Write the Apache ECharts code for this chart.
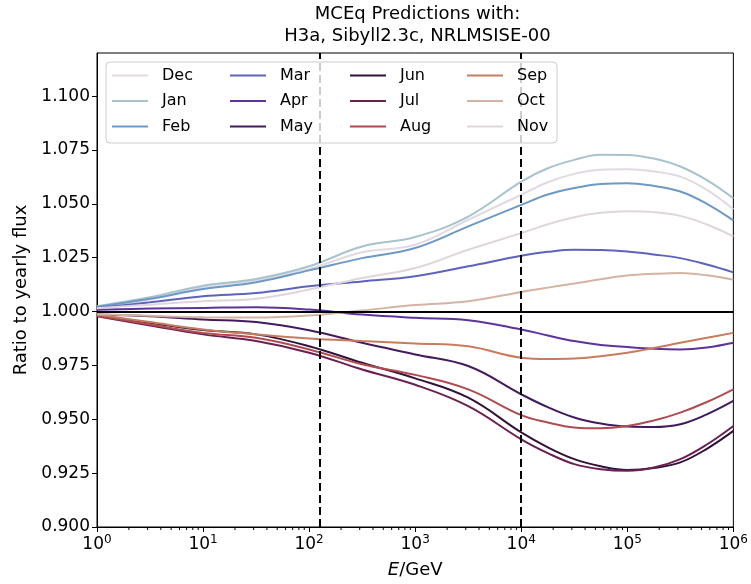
<!DOCTYPE html>
<html>
<head>
<meta charset="utf-8">
<script src="https://cdn.jsdelivr.net/npm/echarts@6/dist/echarts.min.js"></script>
<style>
  html, body { margin: 0; padding: 0; background: #fff; }
  #chart { width: 751px; height: 584px; }
</style>
</head>
<body>
<div id="chart"></div>
<script>
// log10(E/GeV) sample points
const logE = [0, 0.5, 1, 1.5, 2, 2.5, 3, 3.5, 4, 4.25, 4.5, 4.75, 5, 5.25, 5.5, 5.75, 6];

const months = ["Dec", "Jan", "Feb", "Mar", "Apr", "May", "Jun", "Jul", "Aug", "Sep", "Oct", "Nov"];
const colors = ["#e2d9e2", "#a7c3cc", "#6d99c6", "#5d63bc", "#5f339c", "#431a5e",
                "#30133a", "#6c2050", "#b04b4f", "#c87c5e", "#d5b3a3", "#dfd6dd"];

const dec = [1.0022, 1.0056, 1.0114, 1.0145, 1.0198, 1.0275, 1.0310, 1.0426, 1.0542, 1.0600, 1.0639, 1.0658, 1.0660, 1.0650, 1.0626, 1.0565, 1.0475];
const jan = [1.0025, 1.0066, 1.0120, 1.0151, 1.0210, 1.0302, 1.0346, 1.0441, 1.0603, 1.0665, 1.0704, 1.0728, 1.0727, 1.0710, 1.0673, 1.0610, 1.0526];
const feb = [1.0022, 1.0059, 1.0105, 1.0136, 1.0191, 1.0248, 1.0295, 1.0395, 1.0495, 1.0543, 1.0573, 1.0592, 1.0596, 1.0583, 1.0557, 1.0500, 1.0423];
const mar = [1.0017, 1.0043, 1.0071, 1.0086, 1.0117, 1.0140, 1.0164, 1.0210, 1.0259, 1.0277, 1.0287, 1.0286, 1.0279, 1.0265, 1.0248, 1.0218, 1.0182];
const apr = [1.0008, 1.0014, 1.0017, 1.0020, 1.0009, 0.9986, 0.9971, 0.9960, 0.9917, 0.9889, 0.9863, 0.9845, 0.9835, 0.9827, 0.9824, 0.9833, 0.9855];
const may = [0.9986, 0.9978, 0.9963, 0.9951, 0.9913, 0.9855, 0.9801, 0.9747, 0.9616, 0.9556, 0.9508, 0.9480, 0.9466, 0.9464, 0.9477, 0.9523, 0.9585];
const jun = [0.9983, 0.9948, 0.9914, 0.9894, 0.9839, 0.9762, 0.9690, 0.9600, 0.9439, 0.9370, 0.9315, 0.9282, 0.9265, 0.9274, 0.9300, 0.9363, 0.9446];
const jul = [0.9978, 0.9935, 0.9894, 0.9863, 0.9809, 0.9731, 0.9660, 0.9561, 0.9407, 0.9343, 0.9292, 0.9268, 0.9261, 0.9276, 0.9315, 0.9383, 0.9469];
const aug = [0.9981, 0.9940, 0.9901, 0.9878, 0.9824, 0.9755, 0.9706, 0.9639, 0.9519, 0.9485, 0.9462, 0.9458, 0.9469, 0.9494, 0.9531, 0.9580, 0.9639];
const sep = [0.9986, 0.9951, 0.9917, 0.9894, 0.9875, 0.9863, 0.9852, 0.9839, 0.9786, 0.9780, 0.9782, 0.9793, 0.9809, 0.9831, 0.9855, 0.9878, 0.9901];
const oct = [0.9988, 0.9980, 0.9973, 0.9972, 0.9982, 1.0005, 1.0030, 1.0048, 1.0091, 1.0111, 1.0130, 1.0150, 1.0167, 1.0175, 1.0179, 1.0168, 1.0148];
const nov = [1.0015, 1.0032, 1.0048, 1.0059, 1.0102, 1.0156, 1.0202, 1.0287, 1.0364, 1.0405, 1.0438, 1.0458, 1.0465, 1.0461, 1.0444, 1.0404, 1.0349];

const values = [dec, jan, feb, mar, apr, may, jun, jul, aug, sep, oct, nov];

const yTicks = [0.9, 0.925, 0.95, 0.975, 1.0, 1.025, 1.05, 1.075, 1.1];
const cutEnergies = [125, 1e4];

// minor ticks of the log axis (2..9 times each decade)
const minorTicks = [];
for (let d = 0; d < 6; d++) {
  for (let k = 2; k <= 9; k++) minorTicks.push(k * Math.pow(10, d));
}

const font = "DejaVu Sans";
const chart = echarts.init(document.getElementById("chart"));

const series = months.map((m, i) => ({
  name: m,
  type: "line",
  data: logE.map((l, j) => [Math.pow(10, l), values[i][j]]),
  smooth: 0.4,
  symbol: "none",
  lineStyle: { width: 2, color: colors[i] },
  itemStyle: { color: colors[i] },
  z: 2
}));

series.push({
  name: "lines",
  type: "line",
  data: [],
  markLine: {
    silent: true,
    symbol: "none",
    label: { show: false },
    z: 4,
    data: [
      { yAxis: 1.0, lineStyle: { color: "#000", width: 2, type: "solid" } },
      { xAxis: cutEnergies[0], lineStyle: { color: "#000", width: 2, type: [8, 4] } },
      { xAxis: cutEnergies[1], lineStyle: { color: "#000", width: 2, type: [8, 4] } }
    ]
  }
});

// minor ticks below the x axis, placed through the axis scale
series.push({
  name: "minor",
  type: "custom",
  silent: true,
  clip: false,
  z: 5,
  data: minorTicks.map(v => [v, 0.9]),
  renderItem: (params, api) => {
    const p = api.coord([api.value(0), api.value(1)]);
    return {
      type: "line",
      shape: { x1: p[0], y1: p[1], x2: p[0], y2: p[1] + 3 },
      style: { stroke: "#000", lineWidth: 1 }
    };
  }
});

function legend(names, left) {
  return {
    data: names,
    orient: "vertical",
    left: left,
    top: 65.5,
    padding: 0,
    itemWidth: 36,
    itemHeight: 2,
    itemGap: 5.5,
    icon: "rect",
    z: 8,
    textStyle: { fontFamily: font, fontSize: 16, color: "#000", lineHeight: 20, padding: [0, 0, 0, 9] }
  };
}

const option = {
  animation: false,
  backgroundColor: "#fff",
  grid: {
    left: 97, right: 13, top: 53, bottom: 56,
    show: true, borderColor: "#000", borderWidth: 1, backgroundColor: "transparent"
  },
  graphic: [
    {
      type: "text", x: 417.5, y: 3, z: 10,
      style: {
        text: "MCEq Predictions with:\nH3a, Sibyll2.3c, NRLMSISE-00",
        textAlign: "center", fontFamily: font, fontSize: 18, lineHeight: 22, fill: "#000"
      }
    },
    {
      type: "rect", z: 7,
      shape: { x: 106, y: 62, width: 451, height: 81, r: 4 },
      style: { fill: "rgba(255,255,255,0.8)", stroke: "#cccccc", lineWidth: 1 }
    }
  ],
  legend: [
    legend(["Dec", "Jan", "Feb"], 112),
    legend(["Mar", "Apr", "May"], 230),
    legend(["Jun", "Jul", "Aug"], 350),
    legend(["Sep", "Oct", "Nov"], 467)
  ],
  xAxis: {
    type: "log", logBase: 10, min: 1, max: 1e6,
    name: "{i|E}/GeV",
    nameLocation: "middle",
    nameGap: 34,
    nameTextStyle: {
      fontFamily: font, fontSize: 18, color: "#000",
      rich: { i: { fontFamily: font, fontSize: 18, fontStyle: "italic", color: "#000" } }
    },
    axisLine: { show: true, lineStyle: { color: "#000", width: 1 } },
    axisTick: { show: true, length: 5, lineStyle: { color: "#000", width: 1 } },
    splitLine: { show: false },
    axisLabel: {
      margin: 7,
      formatter: v => "{a|10}{b|" + Math.round(Math.log10(v)) + "}",
      rich: {
        a: { fontFamily: font, fontSize: 17, color: "#000" },
        b: { fontFamily: font, fontSize: 12, color: "#000", padding: [0, 0, 9, 0] }
      }
    }
  },
  yAxis: {
    type: "value", min: 0.9, max: 1.12,
    name: "Ratio to yearly flux",
    nameLocation: "middle",
    nameGap: 67,
    nameTextStyle: { fontFamily: font, fontSize: 18, color: "#000" },
    axisLine: { show: true, lineStyle: { color: "#000", width: 1 } },
    axisTick: { show: true, length: 5, customValues: yTicks, lineStyle: { color: "#000", width: 1 } },
    splitLine: { show: false },
    axisLabel: {
      customValues: yTicks,
      formatter: v => v.toFixed(3),
      fontFamily: font, fontSize: 17, color: "#000", margin: 7
    }
  },
  series: series
};

chart.setOption(option);
</script>
</body>
</html>
